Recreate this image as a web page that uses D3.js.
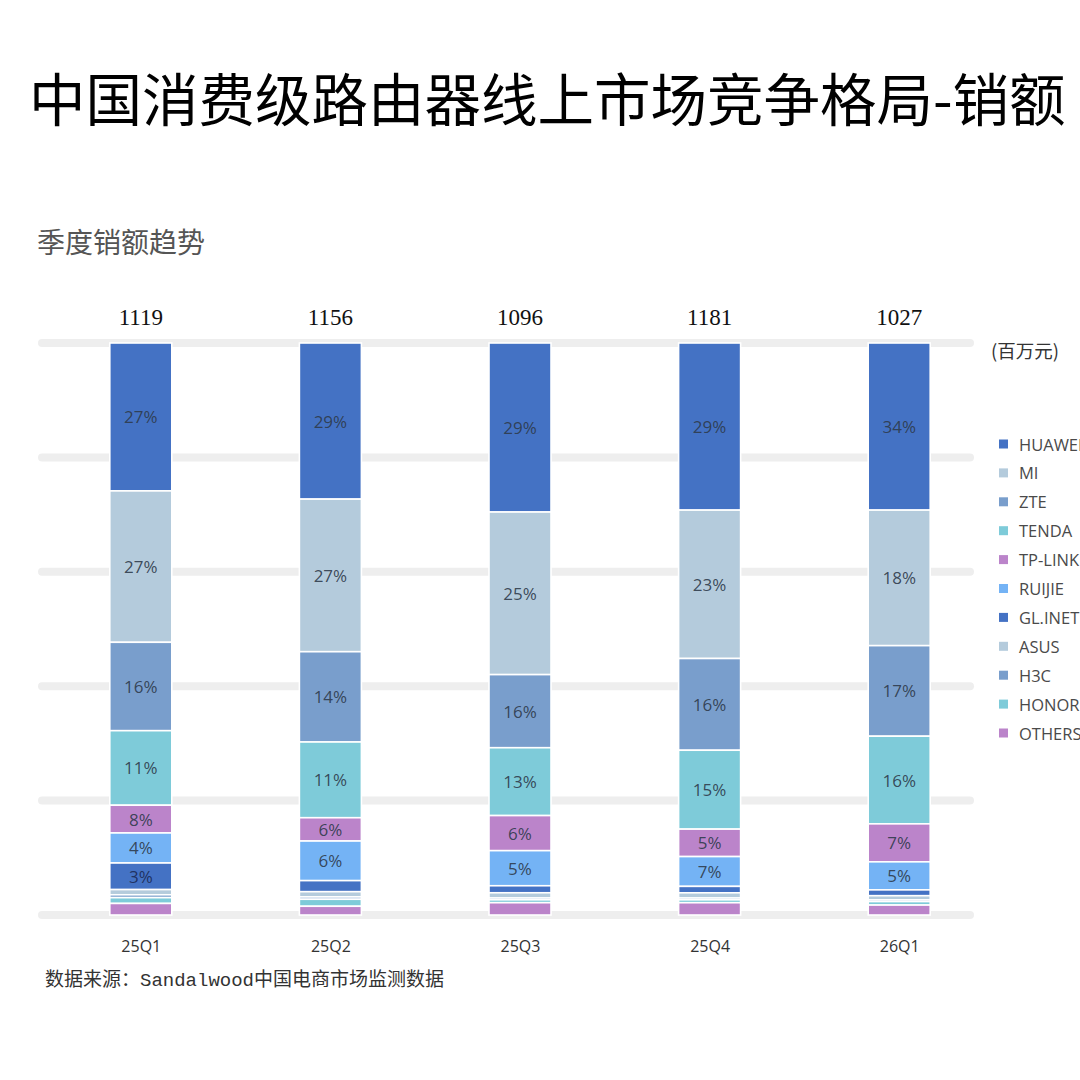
<!DOCTYPE html>
<html>
<head>
<meta charset="utf-8">
<script src="https://cdn.jsdelivr.net/npm/d3@7"></script>
<style>
  html, body { margin: 0; padding: 0; background: #fff; }
  svg { display: block; }
</style>
</head>
<body>
<svg id="chart" width="1080" height="1080"></svg>
<script>
// ---------- data ----------
const quarters = ["25Q1", "25Q2", "25Q3", "25Q4", "26Q1"];
const totals = [1119, 1156, 1096, 1181, 1027];
const brands = ["HUAWEI", "MI", "ZTE", "TENDA", "TP-LINK", "RUIJIE", "GL.INET", "ASUS", "H3C", "HONOR", "OTHERS"];
const brandColors = ["#4472C4", "#B4CBDC", "#799ECC", "#7ECBD9", "#BB84CA", "#74B3F5", "#4472C4", "#B4CBDC", "#799ECC", "#7ECBD9", "#BB84CA"];
// segment shares as drawn (percent), one array per brand over the quarters
const shareHUAWEI = [25.6, 26.8, 28.9, 28.6, 28.6];
const shareMI     = [26.2, 26.2, 27.8, 25.4, 23.2];
const shareZTE    = [15.3, 15.5, 12.5, 15.7, 15.5];
const shareTENDA  = [12.9, 13.0, 11.6, 13.5, 15.0];
const shareTPLINK = [4.8, 4.0, 6.0, 4.7, 6.5];
const shareRUIJIE = [5.2, 6.8, 6.0, 5.1, 4.8];
const shareGLINET = [4.6, 1.9, 1.2, 1.1, 1.0];
const shareASUS   = [0.9, 0.9, 0.9, 0.9, 0.7];
const shareH3C    = [0.5, 0.4, 0.3, 0.3, 0.3];
const shareHONOR  = [1.0, 1.2, 0.5, 0.5, 0.6];
const shareOTHERS = [2.0, 1.5, 2.1, 2.1, 1.7];
// printed labels inside the segments
const labelHUAWEI = ["27%", "29%", "29%", "29%", "34%"];
const labelMI     = ["27%", "27%", "25%", "23%", "18%"];
const labelZTE    = ["16%", "14%", "16%", "16%", "17%"];
const labelTENDA  = ["11%", "11%", "13%", "15%", "16%"];
const labelTPLINK = ["8%", "6%", "6%", "5%", "7%"];
const labelRUIJIE = ["4%", "6%", "5%", "7%", "5%"];
const labelGLINET = ["3%", "", "", "", ""];
const yTicks = [0, 0.2, 0.4, 0.6, 0.8, 1];

const titleText = "中国消费级路由器线上市场竞争格局-销额";
const subtitleText = "季度销额趋势";
const unitText = "(百万元)";
const sourceText = "数据来源：Sandalwood中国电商市场监测数据";

// ---------- build table ----------
const shareArrays = [shareHUAWEI, shareMI, shareZTE, shareTENDA, shareTPLINK, shareRUIJIE,
                     shareGLINET, shareASUS, shareH3C, shareHONOR, shareOTHERS];
const labelArrays = [labelHUAWEI, labelMI, labelZTE, labelTENDA, labelTPLINK, labelRUIJIE, labelGLINET];
const table = quarters.map((q, i) => {
  const row = { quarter: q };
  brands.forEach((b, j) => { row[b] = shareArrays[j][i]; });
  return row;
});

const svg = d3.select("#chart");
const sansCJK = "'Noto Sans CJK SC', 'Noto Sans', sans-serif";
const sans = "'Open Sans', 'Noto Sans', 'Noto Sans CJK SC', sans-serif";

// ---------- scales ----------
const x = d3.scalePoint().domain(quarters).range([46, 994]).padding(0.5);
const barW = 62;
const y = d3.scaleLinear().domain([0, 1]).range([915, 343]);
const color = d3.scaleOrdinal().domain(brands).range(brandColors);

// ---------- titles ----------
svg.append("text")
  .attr("x", 29).attr("y", 96)
  .attr("dominant-baseline", "central")
  .style("font-family", sansCJK)
  .style("font-size", "56.5px")
  .style("font-weight", 400)
  .attr("fill", "#000")
  .text(titleText);

svg.append("text")
  .attr("x", 37).attr("y", 241)
  .attr("dominant-baseline", "central")
  .style("font-family", sansCJK)
  .style("font-size", "28px")
  .attr("fill", "#555")
  .text(subtitleText);

// ---------- gridlines ----------
svg.append("g").selectAll("line").data(yTicks).join("line")
  .attr("x1", 42).attr("x2", 970)
  .attr("y1", d => y(d)).attr("y2", d => y(d))
  .attr("stroke", "#eeeeee")
  .attr("stroke-width", 8)
  .attr("stroke-linecap", "round");

// ---------- stacked bars (first brand on top) ----------
const stack = d3.stack().keys(brands).order(d3.stackOrderReverse).offset(d3.stackOffsetExpand);
const series = stack(table);

const g = svg.append("g");
series.forEach((s) => {
  g.append("g").selectAll("rect").data(s).join("rect")
    .attr("x", d => x(d.data.quarter) - barW / 2)
    .attr("width", barW)
    .attr("y", d => y(d[1]))
    .attr("height", d => Math.max(0, y(d[0]) - y(d[1])))
    .attr("fill", color(s.key))
    .attr("stroke", "#fff")
    .attr("stroke-width", 1.6);
});

// segment labels
series.forEach((s) => {
  const si = brands.indexOf(s.key);
  if (si >= labelArrays.length) return;
  g.append("g").selectAll("text").data(s).join("text")
    .attr("x", d => x(d.data.quarter))
    .attr("y", d => (y(d[0]) + y(d[1])) / 2)
    .attr("text-anchor", "middle")
    .attr("dominant-baseline", "central")
    .style("font-family", sans)
    .style("font-size", "17px")
    .attr("fill", si === 6 ? "#1b2a55" : "#2e3a4a")
    .attr("fill-opacity", 0.9)
    .text((d, i) => labelArrays[si][i]);
});

// totals
svg.append("g").selectAll("text").data(quarters).join("text")
  .attr("x", d => x(d))
  .attr("y", 317)
  .attr("text-anchor", "middle")
  .attr("dominant-baseline", "central")
  .style("font-family", "'Liberation Serif', 'DejaVu Serif', serif")
  .style("font-size", "23px")
  .attr("fill", "#111")
  .text((d, i) => totals[i]);

// x axis labels
const xAxis = d3.axisBottom(x).tickSize(0).tickPadding(0);
const ax = svg.append("g").attr("transform", "translate(0,946)").call(xAxis);
ax.select(".domain").remove();
ax.selectAll("text")
  .attr("y", 0).attr("dy", null)
  .attr("dominant-baseline", "central")
  .style("font-family", sans)
  .style("font-size", "16px")
  .attr("fill", "#333");

// unit
svg.append("text")
  .attr("x", 991).attr("y", 350)
  .attr("dominant-baseline", "central")
  .style("font-family", sansCJK)
  .style("font-size", "18.5px")
  .attr("fill", "#333")
  .text(unitText);

// legend
const legend = svg.append("g");
const legendY = d3.scalePoint().domain(brands).range([444, 733]);
const li = legend.selectAll("g").data(brands).join("g")
  .attr("transform", d => `translate(999,${legendY(d)})`);
li.append("rect")
  .attr("x", 0).attr("y", -4.5).attr("width", 9).attr("height", 9)
  .attr("fill", d => color(d));
li.append("text")
  .attr("x", 20).attr("y", 0)
  .attr("dominant-baseline", "central")
  .style("font-family", sans)
  .style("font-size", "16.5px")
  .attr("fill", "#4a4a4a")
  .text(d => d);

// source
svg.append("text")
  .attr("x", 45).attr("y", 981)
  .attr("dominant-baseline", "central")
  .style("font-family", "'Liberation Mono', 'DejaVu Sans Mono', 'Noto Sans CJK SC', monospace")
  .style("font-size", "19px")
  .attr("fill", "#333")
  .text(sourceText);
</script>
</body>
</html>
